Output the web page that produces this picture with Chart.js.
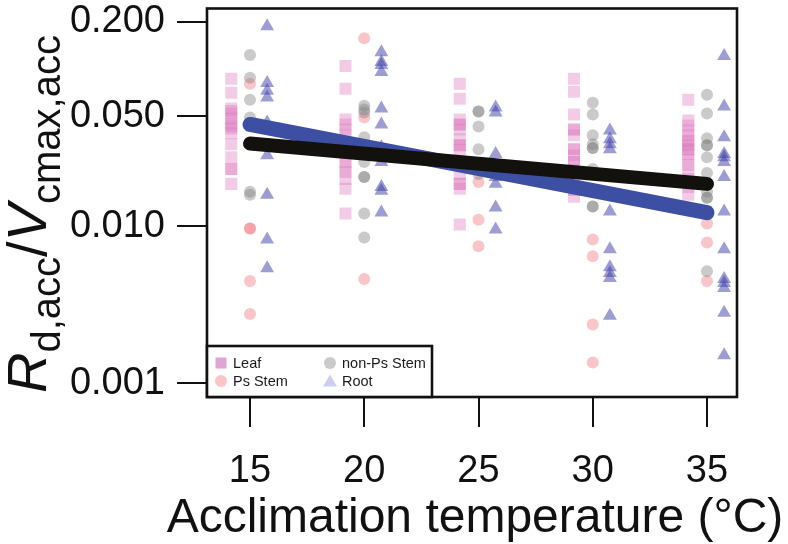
<!DOCTYPE html>
<html><head><meta charset="utf-8">
<script src="https://cdn.jsdelivr.net/npm/chart.js@4.4.1/dist/chart.umd.min.js"></script>
<style>html,body{margin:0;padding:0;background:#fff;}#wrap{width:788px;height:544px;position:relative;}</style>
</head><body><div id="wrap"><canvas id="c"></canvas></div>
<script>
// ---------- data ----------
const temperatures = [15, 20, 25, 30, 35];
const xTickValues = [15, 20, 25, 30, 35];
const yTickValues = [0.2, 0.05, 0.01, 0.001];
const seriesNames = ['Leaf', 'Ps Stem', 'non-Ps Stem', 'Root'];

const leafValues = [
  [0.0867, 0.0706, 0.0560, 0.0540, 0.0521, 0.0484, 0.0451, 0.0435, 0.0419, 0.0390, 0.0332, 0.0275, 0.0231, 0.0231, 0.0186],
  [0.1046, 0.0749, 0.0478, 0.0444, 0.0413, 0.0379, 0.0342, 0.0309, 0.0283, 0.0256, 0.0238, 0.0221, 0.0200, 0.0173, 0.01205],
  [0.0805, 0.0648, 0.0478, 0.0444, 0.0444, 0.0413, 0.0357, 0.0327, 0.0327, 0.0305, 0.0256, 0.0215, 0.0186, 0.0186, 0.0173, 0.01026],
  [0.0867, 0.0718, 0.0514, 0.0413, 0.0413, 0.0379, 0.0309, 0.0309, 0.0283, 0.0256, 0.0256, 0.0228, 0.0191, 0.0171, 0.0171, 0.0154],
  [0.0638, 0.0471, 0.0438, 0.0407, 0.0379, 0.0347, 0.0347, 0.0327, 0.0309, 0.0309, 0.0288, 0.0264, 0.0245, 0.0221, 0.0200, 0.0178, 0.01585]
];
const psStemValues = [
  [0.0805, 0.00967, 0.00967, 0.00448, 0.00277],
  [0.157, 0.0492, 0.00461],
  [0.0191, 0.01101, 0.00745],
  [0.00824, 0.00644, 0.00237, 0.00136],
  [0.01040, 0.00789, 0.00448]
];
const nonPsStemValues = [
  [0.1228, 0.0879, 0.0638, 0.0492, 0.01656, 0.01585],
  [0.0585, 0.0552, 0.0529, 0.0368, 0.0256, 0.0206, 0.0206, 0.01205, 0.00849],
  [0.0536, 0.0536, 0.0431, 0.0309, 0.0215],
  [0.0611, 0.0514, 0.0379, 0.0332, 0.0314, 0.0314, 0.0231, 0.01656, 0.01334, 0.01334],
  [0.0687, 0.0521, 0.0363, 0.0327, 0.0327, 0.0275, 0.0218, 0.01656, 0.01517, 0.01517, 0.00518]
];
const rootValues = [
  [0.187, 0.0816, 0.0728, 0.0658, 0.0457, 0.0283, 0.01585, 0.00824, 0.00541],
  [0.128, 0.111, 0.106, 0.0959, 0.0560, 0.0444, 0.0318, 0.0256, 0.0178, 0.0168, 0.01222],
  [0.0569, 0.0529, 0.0288, 0.0206, 0.0186, 0.01315, 0.00953],
  [0.0407, 0.0357, 0.0332, 0.0309, 0.01240, 0.00713, 0.00549, 0.00504, 0.00468, 0.00270],
  [0.121, 0.0577, 0.0368, 0.0288, 0.0275, 0.0256, 0.0206, 0.01240, 0.00713, 0.00461, 0.00435, 0.00405, 0.00282, 0.00151]
];
const fitX = [15, 35];
const blueFitValues = [0.0444, 0.0122];
const blackFitValues = [0.0336, 0.0186];

// ---------- styling ----------
const FONT = "'Liberation Sans', Arial, Helvetica, sans-serif";
const jitter = [-0.82, 0, 0, 0.75];
const fillColors = ['rgba(220,120,190,0.38)', 'rgba(240,110,120,0.40)', 'rgba(128,128,128,0.42)', 'rgba(60,60,170,0.50)'];
const legendColors = ['rgba(205,110,185,0.62)', 'rgba(240,110,120,0.40)', 'rgba(128,128,128,0.42)', 'rgba(90,90,200,0.30)'];
const pointStyles = ['rect', 'circle', 'circle', 'triangle'];
const pointRadii = [8.5, 6, 6, 8];

function toPoints(values, off) {
  const out = [];
  temperatures.forEach((t, i) => values[i].forEach(v => out.push({x: t + off, y: v})));
  return out;
}
const groups = [leafValues, psStemValues, nonPsStemValues, rootValues];

const datasets = groups.map((vals, g) => ({
  type: 'scatter',
  label: seriesNames[g],
  data: toPoints(vals, jitter[g]),
  pointStyle: pointStyles[g],
  pointRadius: pointRadii[g],
  pointHoverRadius: pointRadii[g],
  backgroundColor: fillColors[g],
  borderWidth: 0,
  borderColor: 'rgba(0,0,0,0)',
  order: 5 + (3 - g)
}));
datasets.push({
  type: 'line', label: 'fit1',
  data: fitX.map((x, i) => ({x, y: blueFitValues[i]})),
  borderColor: '#3d4fa3', borderWidth: 15, borderCapStyle: 'round',
  pointRadius: 0, fill: false, order: 1
});
datasets.push({
  type: 'line', label: 'fit2',
  data: fitX.map((x, i) => ({x, y: blackFitValues[i]})),
  borderColor: '#12110d', borderWidth: 14, borderCapStyle: 'round',
  pointRadius: 0, fill: false, order: 0
});

const decor = {
  id: 'decor',
  afterDatasetsDraw(chart) {
    const {ctx, chartArea: a} = chart;
    ctx.save();
    // plot box
    ctx.lineWidth = 2.6;
    ctx.strokeStyle = '#111';
    ctx.strokeRect(a.left, a.top, a.right - a.left, a.bottom - a.top);
    // legend box
    const lx = a.left, ly = 346, lw = 225, lh = a.bottom - 346;
    ctx.fillStyle = '#fff';
    ctx.fillRect(lx, ly, lw, lh);
    ctx.lineWidth = 2.6;
    ctx.strokeRect(lx, ly, lw, lh);
    const items = [[221, 363], [221, 381], [330, 363], [330, 381]];
    ctx.font = '14.5px ' + FONT;
    ctx.textBaseline = 'middle';
    ctx.textAlign = 'left';
    items.forEach(([x, y], g) => {
      ctx.fillStyle = legendColors[g];
      ctx.beginPath();
      if (g === 0) { ctx.rect(x - 5.5, y - 5.5, 11, 11); }
      else if (g === 3) { ctx.moveTo(x - 7, y + 5.5); ctx.lineTo(x + 7, y + 5.5); ctx.lineTo(x, y - 6.5); ctx.closePath(); }
      else { ctx.arc(x, y, 6, 0, Math.PI * 2); }
      ctx.fill();
      ctx.fillStyle = '#1a1a1a';
      ctx.fillText(seriesNames[g], x + 12, y + 1);
    });
    ctx.restore();
  },
  afterDraw(chart) {
    const {ctx} = chart;
    ctx.save();
    ctx.fillStyle = '#111';
    // x title
    ctx.font = '48px ' + FONT;
    ctx.textAlign = 'center';
    ctx.textBaseline = 'alphabetic';
    ctx.fillText('Acclimation temperature (°C)', 475, 532);
    // y title (rotated, with subscripts)
    const big = 56, small = 40, sub = 14;
    const parts = [
      ['R', 'italic ' + big + 'px ' + FONT, 0],
      ['d,acc', small + 'px ' + FONT, sub],
      ['/', big + 'px ' + FONT, 0],
      ['V', 'italic ' + big + 'px ' + FONT, 0],
      ['cmax,acc', small + 'px ' + FONT, sub]
    ];
    let total = 0;
    parts.forEach(p => { ctx.font = p[1]; total += ctx.measureText(p[0]).width; });
    ctx.translate(46, 214);
    ctx.rotate(-Math.PI / 2);
    ctx.textAlign = 'left';
    let x = -total / 2;
    parts.forEach(p => { ctx.font = p[1]; ctx.fillText(p[0], x, p[2]); x += ctx.measureText(p[0]).width; });
    ctx.restore();
  }
};

new Chart(document.getElementById('c'), {
  data: {datasets},
  options: {
    responsive: true, maintainAspectRatio: false, animation: false,
    layout: {padding: {top: 5, right: 51, left: 0, bottom: 0}},
    plugins: {legend: {display: false}, tooltip: {enabled: false}},
    scales: {
      x: {
        type: 'linear', position: 'bottom', min: 13.118, max: 36.313,
        afterBuildTicks: s => { s.ticks = xTickValues.map(v => ({value: v})); },
        afterFit: s => { s.height = 147; s.paddingLeft = 0; s.paddingRight = 0; },
        ticks: {font: {size: 38, family: FONT}, color: '#111', padding: 22, maxRotation: 0, autoSkip: false},
        grid: {drawOnChartArea: false, drawTicks: true, tickLength: 30, color: '#111', lineWidth: 2},
        border: {display: false}
      },
      y: {
        type: 'logarithmic', position: 'left', min: 0.00082, max: 0.2427,
        afterBuildTicks: s => { s.ticks = yTickValues.map(v => ({value: v})); },
        afterFit: s => { s.width = 207; s.paddingTop = 0; s.paddingBottom = 0; },
        ticks: {font: {size: 38, family: FONT}, color: '#111', padding: 12, autoSkip: false,
                callback: v => Number(v).toFixed(3)},
        grid: {drawOnChartArea: false, drawTicks: true, tickLength: 30, color: '#111', lineWidth: 2},
        border: {display: false}
      }
    }
  },
  plugins: [decor]
});
</script></body></html>
